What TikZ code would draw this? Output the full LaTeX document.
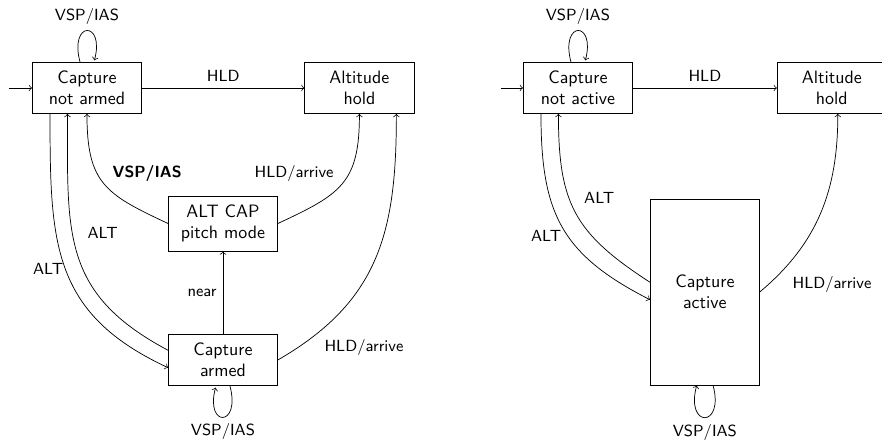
\documentclass[tikz,border=0pt]{standalone}
\usetikzlibrary{arrows}
\tikzset{
  mode/.style={draw, rectangle, align=center, minimum width=2.14cm, minimum height=1cm, font=\sffamily},
  lbl/.style={font=\sffamily\small},
}
\begin{document}
\begin{tikzpicture}[>=to]
\useasboundingbox (0,0) rectangle (17.29,-8.683);
% left: capture with an armed state
\node[mode] (n1) at (1.705,-1.725) {Capture\\not armed};
\node[mode] (n2) at (7.046,-1.725) {Altitude\\hold};
\node[mode, minimum height=1.08cm] (n3) at (4.371,-4.381) {ALT CAP\\pitch mode};
\node[mode] (n4) at (4.371,-7.056) {Capture\\armed};
\coordinate (s1) at (0.176,-1.725);
\path (s1) edge[->] (n1);
\path (n1) edge[->] node[lbl, above] {HLD} (n2);
\path (n1) edge[->, loop above] node[lbl, above] {VSP/IAS} ();
\path (n4) edge[->, loop below] node[lbl, below] {VSP/IAS} ();
\path (n1.215) edge[->, out=-90, in=155, looseness=1.18] node[lbl, pos=0.5, left, inner sep=1pt] {ALT} (n4.188);
\path (n4.170) edge[->, out=152, in=-90, looseness=1.2] node[lbl, pos=0.6, right, xshift=5pt] {ALT} (n1.233);
\path (n3.west) edge[->, out=155, in=-90, looseness=1.3] node[lbl, pos=0.6, right, xshift=5pt] {\bfseries VSP/IAS} (n1.south);
\path (n3.east) edge[->, out=25, in=-90, looseness=1.3] node[lbl, pos=0.6, left, xshift=-5pt] {HLD/arrive} (n2.south);
\path (n4) edge[->] node[lbl, left] {near} (n3);
\path (n4.east) edge[->, out=30, in=-90, looseness=1.1] node[lbl, pos=0.15, below right] {HLD/arrive} (n2.325);
% right: capture without it
\node[mode] (m1) at (11.329,-1.725) {Capture\\not active};
\node[mode] (m2) at (16.307,-1.725) {Altitude\\hold};
\node[mode, minimum height=3.646cm] (m3) at (13.818,-5.723) {Capture\\active};
\coordinate (s2) at (9.82,-1.725);
\path (s2) edge[->] (m1);
\path (m1) edge[->] node[lbl, above] {HLD} (m2);
\path (m1) edge[->, loop above] node[lbl, above] {VSP/IAS} ();
\path (m3.275) edge[->, out=-75, in=-105, looseness=7] node[lbl, below] {VSP/IAS} (m3.265);
\path (m1.215) edge[->, out=-90, in=153, looseness=1.18] node[lbl, pos=0.55, left] {ALT} (m3.188);
\path (m3.170) edge[->, out=147, in=-90, looseness=1.2] node[lbl, pos=0.6, right, xshift=5pt] {ALT} (m1.233);
\path (m3.east) edge[->, out=40, in=-90] node[lbl, pos=0.05, right, xshift=10pt] {HLD/arrive} (m2.283);
\end{tikzpicture}
\end{document}
